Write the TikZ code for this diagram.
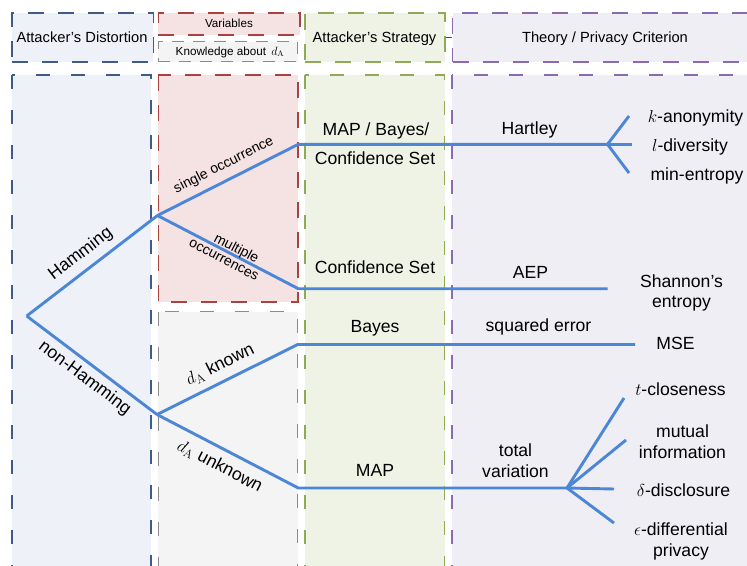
\documentclass[tikz,border=0pt]{standalone}
\usepackage[no-math]{fontspec}
\setmainfont{Liberation Sans}
\definecolor{dBlue}{HTML}{3E5C8A}
\definecolor{fBlue}{HTML}{EEF2F8}
\definecolor{dRed}{HTML}{AA4340}
\definecolor{fRed}{HTML}{F5E3E3}
\definecolor{dGray}{HTML}{8C8C8C}
\definecolor{fGray}{HTML}{F4F4F4}
\definecolor{dGreen}{HTML}{8EAA56}
\definecolor{fGreen}{HTML}{EFF3E6}
\definecolor{dPurple}{HTML}{8A6BB0}
\definecolor{fPurple}{HTML}{F0EEF5}
\definecolor{treeBlue}{HTML}{4C86D6}
\begin{document}
\begin{tikzpicture}[x=1pt,y=-1pt,
  hdr/.style={font=\fontsize{14.7}{17}\selectfont, anchor=base, inner sep=0pt},
  body/.style={font=\fontsize{17.6}{21}\selectfont, anchor=base, inner sep=0pt},
  smalltxt/.style={font=\fontsize{11.7}{14}\selectfont, anchor=base, inner sep=0pt},
  edgelbl/.style={font=\fontsize{14}{15.5}\selectfont, sloped, inner sep=0pt, align=center},
  edgelblbig/.style={font=\fontsize{17.6}{21}\selectfont, sloped, inner sep=0pt},
  bx/.style={line width=1.6pt, dash pattern=on 16pt off 14pt, inner sep=0pt},
  longbx/.style={dash pattern=on 14pt off 21pt},
  thinbx/.style={line width=1.2pt, dash pattern=on 12pt off 9pt, inner sep=0pt},
  bluebox/.style={bx, draw=dBlue, fill=fBlue},
  redbox/.style={bx, draw=dRed, fill=fRed},
  graybox/.style={thinbx, draw=dGray, fill=fGray},
  greenbox/.style={bx, draw=dGreen, fill=fGreen},
  purplebox/.style={bx, draw=dPurple, fill=fPurple},
  branch/.style={draw=treeBlue, line width=2.9pt, line join=round},
]
\useasboundingbox (0,0) rectangle (747,565);

\begin{scope}
\clip (0,0) rectangle (747,565);
% column bodies (running off the bottom edge)
\draw[bluebox, longbx]   (11.7,75) rectangle (150.7,620);
\draw[redbox]            (158.3,75) rectangle (297.7,302);
\draw[graybox, longbx]   (158.3,311.7) rectangle (297.7,620);
\draw[greenbox, longbx]  (305,75) rectangle (444.5,620);
\draw[purplebox, longbx] (452,75) rectangle (800,620);

% header boxes
\node[bluebox, minimum width=141.6pt, minimum height=49pt] (hbA) at (82.5,37.2) {};
\node[redbox, minimum width=141.7pt, minimum height=22.3pt] (hbV) at (229.15,23.85) {};
\node[graybox, minimum width=139.4pt, minimum height=20pt] (hbK) at (228,51.7) {};
\node[greenbox, minimum width=140pt, minimum height=49pt] (hbS) at (375,37.2) {};
\node[purplebox, minimum width=348pt, minimum height=49pt, anchor=west] (hbT) at (451.7,37.2) {};
\end{scope}
\draw[black!70, line width=0.9pt] (hbS.east) -- (hbT.west);

% header texts
\node[hdr] (hA) at (82,42.3) {Attacker's Distortion};
\node[smalltxt] (hV) at (229,27.3) {Variables};
\node[smalltxt] (hK) at (230,55) {Knowledge about\, $d_{\mathrm{A}}$};
\node[hdr] (hS) at (374.5,42) {Attacker's Strategy};
\node[hdr] (hT) at (605,42) {Theory / Privacy Criterion};

% branching points and end points of the tree
\coordinate (root) at (26.7,316);
\coordinate (ham)  at (157.5,215.5);
\coordinate (nham) at (157,414.5);
\coordinate (so)   at (298.3,144.3);
\coordinate (mo)   at (298.3,288.7);
\coordinate (dk)   at (297.7,344.5);
\coordinate (du)   at (298.3,488);
\coordinate (hart) at (607.5,144.3);
\coordinate (aepE) at (607.5,288.7);
\coordinate (mseE) at (635,344.5);
\coordinate (tv)   at (567,488);
\coordinate (kE)   at (629,116);
\coordinate (lE)   at (632,144.3);
\coordinate (mE)   at (629,173);
\coordinate (tE)   at (624,398);
\coordinate (miE)  at (626,440);
\coordinate (dE)   at (614,489);
\coordinate (eE)   at (614,523);

% tree
\draw[branch] (root) -- node[edgelblbig, yshift=16.2pt, xshift=-2pt] (lHam) {Hamming} (ham);
\draw[branch] (root) -- node[edgelblbig, yshift=-14.5pt, xshift=2pt] (lNHam) {non-Hamming} (nham);
\draw[branch] (ham) -- node[edgelbl, yshift=15pt, xshift=3pt] (lSO) {single occurrence} (so) -- (hart);
\draw[branch] (ham) -- node[edgelbl] (lMO) {\hspace*{12pt}multiple\\occurrences} (mo) -- (aepE);
\draw[branch] (nham) -- node[edgelblbig, yshift=16.4pt] (lDK) {$d_{\mathrm{A}}$ known} (dk) -- (mseE);
\draw[branch] (nham) -- node[edgelblbig, yshift=-17pt] (lDU) {$d_{\mathrm{A}}$ unknown} (du) -- (tv);
\draw[branch] (hart) -- (kE);
\draw[branch] (hart) -- (lE);
\draw[branch] (hart) -- (mE);
\draw[branch] (tv) -- (tE);
\draw[branch] (tv) -- (miE);
\draw[branch] (tv) -- (dE);
\draw[branch] (tv) -- (eE);

% attacker's strategy
\node[body] (s1) at (376,135) {MAP / Bayes/};
\node[body] (s2) at (375,164) {Confidence Set};
\node[body] (s3) at (375,273.5) {Confidence Set};
\node[body] (s4) at (375,332) {Bayes};
\node[body] (s5) at (375,476) {MAP};

% theories
\node[body] (t1) at (529.5,134.5) {Hartley};
\node[body] (t2) at (530.5,278.5) {AEP};
\node[body] (t3) at (538.5,331) {squared error};
\node[body] (t4a) at (515.5,456.7) {total};
\node[body] (t4b) at (515.5,477) {variation};

% privacy criteria
\node[body] (c1) at (695.5,122) {$k$-anonymity};
\node[body] (c2) at (690,151.5) {$l$-diversity};
\node[body] (c3) at (697,180) {min-entropy};
\node[body] (c4a) at (681.5,287) {Shannon's};
\node[body] (c4b) at (681.5,307.5) {entropy};
\node[body] (c5) at (675.5,349.5) {MSE};
\node[body] (c6) at (680.5,395) {$t$-closeness};
\node[body] (c7a) at (682.5,437.5) {mutual};
\node[body] (c7b) at (682.5,458.5) {information};
\node[body] (c8) at (683.5,496) {$\delta$-disclosure};
\node[body] (c9a) at (681,535) {$\epsilon$-differential};
\node[body] (c9b) at (681,556) {privacy};
\end{tikzpicture}
\end{document}
